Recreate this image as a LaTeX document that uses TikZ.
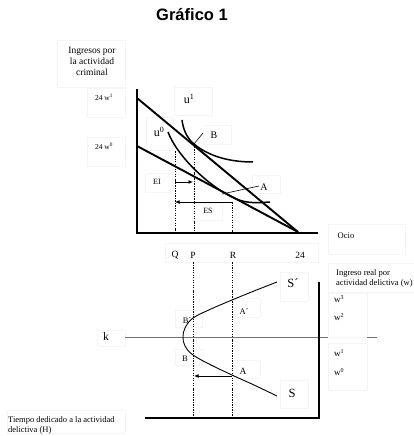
\documentclass[tikz,border=0pt]{standalone}
\usepackage{fontspec}
\setmainfont{Liberation Serif}
\newfontfamily\titlefont{Liberation Sans}
\usetikzlibrary{arrows.meta}
\begin{document}
\begin{tikzpicture}[x=1pt,y=-1pt,
  axis/.style={line width=2.6pt},
  budget/.style={line width=1.9pt},
  icurve/.style={line width=1.5pt},
  guide/.style={line width=0.6pt, dash pattern=on 1.6pt off 1.4pt on 0.5pt off 1.4pt},
  tbox/.style={draw=black!4, fill=white, line width=0.4pt},
  lbl/.style={inner sep=0pt},
  arr/.style={line width=0.9pt, -{Latex[length=4.5pt,width=4pt]}},
  pointer/.style={line width=0.6pt}
]
\useasboundingbox (0,0) rectangle (414,436);
% faint text boxes
\foreach \a/\b/\c/\d in {57/40/125/87, 87/88/125/117, 87/137/125/166, 174/87/212/115,
  146/117/173/150, 203/125/231/144, 252/175/280/193, 145/173/172/192, 192/203/222/220,
  328/224/405/254, 165/243/318/262, 328/263/414/292, 328/293/367/337, 328/343/367/390,
  280/272/308/301, 280/380/308/408, 233/298/260/317, 233/360/260/378, 175/310/202/327,
  175/349/202/365, 97/330/125/346, 7/410/125/433}
  \path[tbox] (\a,\b) rectangle (\c,\d);

% title
\node[lbl, font=\titlefont\bfseries\fontsize{16.5}{18}\selectfont] (title) at (192,15) {Gráfico 1};

% ---------- top panel ----------
\coordinate (ytop) at (137,89);
\coordinate (o1) at (137,233);
\coordinate (xend) at (318,233);
\coordinate (y1) at (137,98);
\coordinate (y0) at (137,146);
\coordinate (x24) at (298,232);
\coordinate (Bt) at (194,144);
\coordinate (At) at (230,196);
\coordinate (u1s) at (182,120);
\coordinate (u1e) at (253,162);
\coordinate (u0s) at (168,132);
\coordinate (u0e) at (270,202);
\coordinate (qT) at (175,151);
\coordinate (qB) at (175,233);
\coordinate (pB) at (194,233);
\coordinate (rT) at (232,202);
\coordinate (rB) at (232,233);
\coordinate (eiS) at (175,182);
\coordinate (eiE) at (193,182);
\coordinate (esE) at (175,202);

\draw[axis] (ytop) -- (o1) -- (xend);
\draw[budget] (y1) -- (x24);
\draw[budget] (y0) -- (x24);
\draw[icurve] (u1s) .. controls (183,128) and (186,137.4) .. (Bt)
  .. controls (206,154) and (225,162) .. (u1e);
\draw[icurve] (u0s) .. controls (178,158) and (210,186) .. (At)
  .. controls (245,204) and (255,203) .. (u0e);
\draw[guide] (qT) -- (qB);
\draw[guide] (Bt) -- (pB);
\draw[guide] (rT) -- (rB);
\draw[arr] (eiS) -- (eiE);
\draw[arr] (rT) -- (esE);

\node[lbl, align=center, font=\fontsize{9.5}{11}\selectfont] (ying) at (92,61) {Ingresos por\\la actividad\\criminal};
\node[lbl, font=\fontsize{7.5}{9}\selectfont] (w1l) at (104,97) {24 w\textsuperscript{1}};
\node[lbl, font=\fontsize{7.5}{9}\selectfont] (w0l) at (104,146) {24 w\textsuperscript{0}};
\node[lbl, font=\fontsize{12}{14}\selectfont] (u1l) at (189,99) {u\textsuperscript{1}};
\node[lbl, font=\fontsize{12}{14}\selectfont] (u0l) at (159,132) {u\textsuperscript{0}};
\node[lbl, font=\fontsize{10}{12}\selectfont] (Bl) at (214,135) {B};
\node[lbl, font=\fontsize{10}{12}\selectfont] (Al) at (264,187) {A};
\node[lbl, font=\fontsize{8}{10}\selectfont] (EIl) at (157,182) {EI};
\node[lbl, font=\fontsize{8}{10}\selectfont] (ESl) at (208,211) {ES};
\coordinate (bp) at (203,133);
\coordinate (ap1) at (222,194);
\coordinate (ap2) at (259,186);
\draw[pointer] (Bt) -- (bp);
\draw[pointer] (ap1) -- (ap2);

\node[lbl, font=\fontsize{8.5}{10}\selectfont] (ocio) at (346,236) {Ocio};
\node[lbl, font=\fontsize{9.5}{11}\selectfont] (Ql) at (175,255) {Q};
\node[lbl, font=\fontsize{9.5}{11}\selectfont] (Pl) at (193,255) {P};
\node[lbl, font=\fontsize{9.5}{11}\selectfont] (Rl) at (233,255) {R};
\node[lbl, font=\fontsize{9.5}{11}\selectfont] (l24) at (300,255) {24};

% ---------- bottom panel ----------
\coordinate (pT) at (193,262);
\coordinate (pBot) at (193,418);
\coordinate (rT2) at (232,262);
\coordinate (rB2) at (232,418);
\coordinate (xl) at (145,418);
\coordinate (o2) at (319,418);
\coordinate (ytop2) at (319,282);
\coordinate (k1) at (125,337);
\coordinate (k2) at (328,337);
\coordinate (k3) at (367,337);
\coordinate (k4) at (377,337);
\coordinate (Ab) at (232,376);
\coordinate (Pb) at (194,376);

\draw[guide] (pT) -- (pBot);
\draw[guide] (rT2) -- (rB2);
\draw[line width=1pt, black!55] (k1) -- (k2);
\draw[line width=1pt, black!55] (k3) -- (k4);
\draw[axis] (xl) -- (o2) -- (ytop2);
\draw[line width=0.9pt] plot[smooth, tension=0.6] coordinates {(277,282) (254,291) (232,300) (211,309) (193,318) (185,328) (183,337) (185,346) (193,355) (211,365) (232,375) (254,385) (277,396)};
\draw[arr] (Ab) -- (Pb);

\node[lbl, font=\fontsize{12.5}{14}\selectfont] (Spl) at (293,283) {S´};
\node[lbl, font=\fontsize{12.5}{14}\selectfont] (Sl) at (292,393) {S};
\node[lbl, font=\fontsize{8.5}{10}\selectfont] (Apl) at (244,312) {A´};
\node[lbl, font=\fontsize{9.5}{11}\selectfont] (Abl) at (243,371) {A};
\node[lbl, font=\fontsize{8.5}{10}\selectfont] (Bpl) at (187,321) {B´};
\node[lbl, font=\fontsize{8.5}{10}\selectfont] (Bbl) at (185,359) {B};
\node[lbl, font=\fontsize{11.5}{13}\selectfont] (kl) at (106,337) {k};

\node[lbl, anchor=west, align=left, font=\fontsize{8.5}{10}\selectfont] (ingr) at (336,278) {Ingreso real por\\actividad delictiva (w)};
\node[lbl, font=\fontsize{9}{11}\selectfont] (w3) at (339,299) {w\textsuperscript{3}};
\node[lbl, font=\fontsize{9}{11}\selectfont] (w2) at (339,317) {w\textsuperscript{2}};
\node[lbl, font=\fontsize{9}{11}\selectfont] (w1) at (339,353) {w\textsuperscript{1}};
\node[lbl, font=\fontsize{9}{11}\selectfont] (w0) at (339,372) {w\textsuperscript{0}};
\node[lbl, anchor=west, align=left, font=\fontsize{8.5}{10}\selectfont] (tiempo) at (8,425) {Tiempo dedicado a la actividad\\delictiva (H)};
\end{tikzpicture}
\end{document}
